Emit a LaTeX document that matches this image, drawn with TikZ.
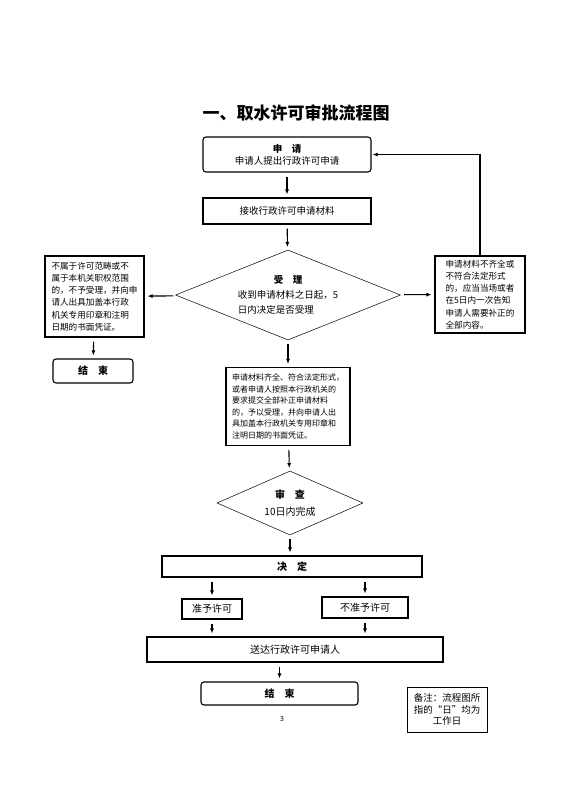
\documentclass[tikz,border=0pt]{standalone}
\usepackage{fontspec}
\setmainfont{Noto Sans CJK SC}
\usepackage{tikz}
\usetikzlibrary{arrows.meta,positioning,shapes.geometric}

\begin{document}
\begin{tikzpicture}[x=1pt,y=-1pt,
  box/.style={draw,line width=1.1pt,inner sep=0pt,align=center,font=\fontsize{9.5}{12}\selectfont},
  rbox/.style={box,rounded corners=3pt},
  sidebox/.style={box,align=left,font=\fontsize{8.6}{12.2}\selectfont},
  dia/.style={draw,line width=0.5pt,shape=diamond,inner sep=0pt,align=center,font=\fontsize{9.5}{15}\selectfont},
  arr/.style={-{Latex[length=5pt,width=4pt]},line width=1.1pt,shorten <=4pt,shorten >=3pt}]
\useasboundingbox (0,0) rectangle (566,800);

\node[font=\fontsize{17}{20}\selectfont\bfseries] (title) at (296,113) {一、取水许可审批流程图};

% main column
\node[rbox,minimum width=168pt,minimum height=35pt] (apply) at (287,154.5) {\textbf{申\quad 请}\\申请人提出行政许可申请};
\node[box,minimum width=168pt,minimum height=26pt] (receive) at (287,211) {接收行政许可申请材料};
\node[dia,shape aspect=2.5,minimum width=225pt,minimum height=90pt] (accept) at (288,295)
  {\begin{tabular}{@{}l@{}}\multicolumn{1}{@{}c@{}}{\textbf{受\quad 理}}\\收到申请材料之日起，5\\日内决定是否受理\end{tabular}};
\node[box,align=left,minimum width=124pt,minimum height=78pt,font=\fontsize{8}{11.5}\selectfont] (admit) at (288,406.5)
  {申请材料齐全、符合法定形式，\\或者申请人按照本行政机关的\\要求提交全部补正申请材料\\的，予以受理，并向申请人出\\具加盖本行政机关专用印章和\\注明日期的书面凭证。};
\node[dia,shape aspect=2.3,minimum width=146pt,minimum height=64pt,font=\fontsize{10}{17}\selectfont] (review) at (290,503)
  {\textbf{审\quad 查}\\10日内完成};
\node[box,minimum width=260pt,minimum height=21pt,font=\fontsize{10}{12}\selectfont] (decide) at (292,566.5) {\textbf{决\quad 定}};
\node[box,minimum width=60pt,minimum height=20pt,font=\fontsize{10}{12}\selectfont] (grant) at (212,609) {准予许可};
\node[box,minimum width=86pt,minimum height=21pt,font=\fontsize{10}{12}\selectfont] (deny) at (365,607.5) {不准予许可};
\node[box,minimum width=296pt,minimum height=25pt,font=\fontsize{10}{12}\selectfont] (deliver) at (295,649.5) {送达行政许可申请人};
\node[rbox,minimum width=157pt,minimum height=23pt,font=\fontsize{10}{12}\selectfont] (finish) at (279.5,693.5) {\textbf{结\quad 束}};
\node[font=\fontsize{7}{8}\selectfont] (pagenum) at (282,719) {3};

% side boxes
\node[sidebox,minimum width=99pt,minimum height=81pt] (reject) at (94.5,296.5)
  {不属于许可范畴或不\\属于本机关职权范围\\的，不予受理，并向申\\请人出具加盖本行政\\机关专用印章和注明\\日期的书面凭证。};
\node[rbox,minimum width=80pt,minimum height=24pt,font=\fontsize{10}{12}\selectfont] (stop) at (93,371) {\textbf{结\quad 束}};
\node[sidebox,minimum width=90pt,minimum height=77pt] (amend) at (480,294.5)
  {申请材料不齐全或\\不符合法定形式\\的，应当当场或者\\在5日内一次告知\\申请人需要补正的\\全部内容。};
\node[box,line width=1pt,minimum width=80pt,minimum height=45pt,font=\fontsize{9.5}{11.5}\selectfont] (note) at (447,709.5)
  {备注：流程图所\\指的“日”均为\\工作日};

% connectors
\draw[arr] (apply) -- (receive);
\draw[arr] (receive) -- (accept);
\draw[arr] (accept) -- (admit);
\draw[arr] (admit) -- (review);
\draw[arr] (review) -- (review |- decide.north);
\draw[arr] (decide.south -| grant) -- (grant);
\draw[arr] (decide.south -| deny) -- (deny);
\draw[arr] (grant) -- (grant |- deliver.north);
\draw[arr] (deny) -- (deny |- deliver.north);
\draw[arr] (deliver.south -| finish) -- (finish);
\draw[arr] (accept) -- (reject);
\draw[arr] (reject) -- (stop);
\draw[arr] (accept) -- (amend);
\draw[arr,shorten <=0pt,shorten >=1pt] (amend.north) |- (apply.east);
\end{tikzpicture}
\end{document}
